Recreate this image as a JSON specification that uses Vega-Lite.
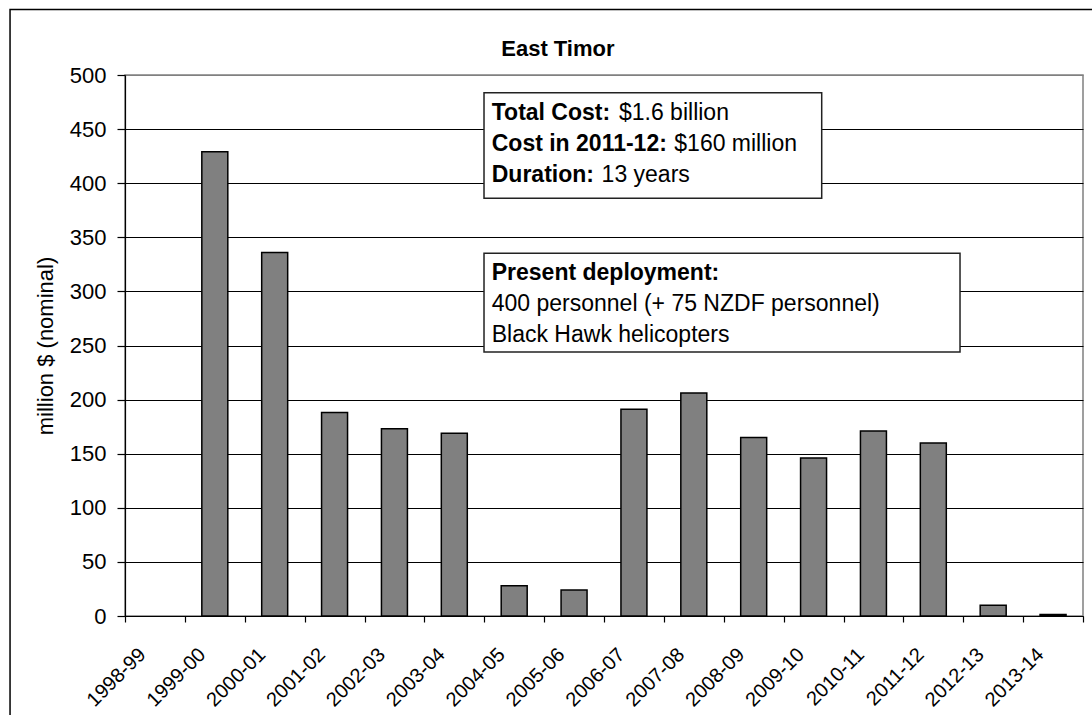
{
  "$schema": "https://vega.github.io/schema/vega-lite/v6.json",
  "width": 958,
  "height": 541,
  "autosize": {"type": "none"},
  "padding": {"left": 125, "top": 75, "right": 9, "bottom": 99},
  "background": "white",
  "config": {
    "font": "Liberation Sans",
    "view": {"stroke": "#808080", "strokeWidth": 1.5},
    "axis": {"labelFont": "Liberation Sans", "titleFont": "Liberation Sans", "labelColor": "black", "titleColor": "black", "domainColor": "black", "tickColor": "black", "domainWidth": 1.2, "tickWidth": 1.2}
  },
  "resolve": {"scale": {"x": "independent"}},
  "layer": [
    {
      "data": {"values": [
        {"year": "1998-99", "cost": 0},
        {"year": "1999-00", "cost": 429},
        {"year": "2000-01", "cost": 336},
        {"year": "2001-02", "cost": 188},
        {"year": "2002-03", "cost": 173},
        {"year": "2003-04", "cost": 169},
        {"year": "2004-05", "cost": 28},
        {"year": "2005-06", "cost": 24},
        {"year": "2006-07", "cost": 191},
        {"year": "2007-08", "cost": 206},
        {"year": "2008-09", "cost": 165},
        {"year": "2009-10", "cost": 146},
        {"year": "2010-11", "cost": 171},
        {"year": "2011-12", "cost": 160},
        {"year": "2012-13", "cost": 10},
        {"year": "2013-14", "cost": 1.5}
      ]},
      "mark": {"type": "bar", "width": {"band": 0.434}, "fill": "#808080", "stroke": "black", "strokeWidth": 1.5},
      "encoding": {
        "x": {"field": "year", "type": "nominal", "sort": null,
          "scale": {"paddingInner": 0, "paddingOuter": 0},
          "axis": {"title": null, "labelAngle": -45, "labelAlign": "right", "labelBaseline": "top", "labelFontSize": 20, "labelOffset": -20, "labelPadding": 22, "tickBand": "extent", "tickSize": 6, "grid": false}},
        "y": {"field": "cost", "type": "quantitative",
          "scale": {"domain": [0, 500], "nice": false},
          "axis": {"title": "million $ (nominal)", "values": [0, 50, 100, 150, 200, 250, 300, 350, 400, 450, 500], "grid": true,
            "gridColor": {"condition": {"test": "datum.value === 500", "value": "#808080"}, "value": "black"},
            "gridWidth": 1.2, "tickSize": 8, "labelFontSize": 22, "labelPadding": 11, "titleFontSize": 22, "titleFontWeight": "normal", "titlePadding": 12}},
        "strokeOpacity": {"condition": {"test": "datum.cost === 0", "value": 0}, "value": 1}
      }
    },
    {
      "data": {"values": [{"k": 1}]},
      "layer": [
        {
          "mark": {"type": "rect", "filled": false, "color": "black", "strokeWidth": 1.5},
          "encoding": {
            "x": {"datum": -1.92, "type": "quantitative", "scale": {"domain": [0, 16], "nice": false, "zero": false}, "axis": null},
            "x2": {"datum": 17.5},
            "y": {"datum": 560.5, "type": "quantitative"},
            "y2": {"datum": -120}
          }
        },
        {
          "mark": {"type": "text", "align": "center", "baseline": "alphabetic", "fontSize": 22, "fontWeight": "bold", "color": "black"},
          "encoding": {
            "x": {"datum": 7.23, "type": "quantitative"},
            "y": {"datum": 517.6, "type": "quantitative"},
            "text": {"value": "East Timor"}
          }
        },
        {
          "mark": {"type": "rect", "fill": "white", "stroke": "#222222", "strokeWidth": 1.5},
          "encoding": {
            "x": {"datum": 5.996, "type": "quantitative"},
            "x2": {"datum": 11.636},
            "y": {"datum": 483.6, "type": "quantitative"},
            "y2": {"datum": 386.0}
          }
        },
        {
          "mark": {"type": "rect", "fill": "white", "stroke": "#222222", "strokeWidth": 1.5},
          "encoding": {
            "x": {"datum": 5.996, "type": "quantitative"},
            "x2": {"datum": 13.946},
            "y": {"datum": 335.2, "type": "quantitative"},
            "y2": {"datum": 244}
          }
        },
        {
          "mark": {"type": "text", "align": "left", "baseline": "alphabetic", "fontSize": 23, "fontWeight": "bold", "color": "black", "lineHeight": 31},
          "encoding": {
            "x": {"datum": 6.125, "type": "quantitative"},
            "y": {"datum": 458.4, "type": "quantitative"},
            "text": {"value": ["Total Cost:", "Cost in 2011-12:", "Duration:"]}
          }
        },
        {
          "mark": {"type": "text", "align": "left", "baseline": "alphabetic", "fontSize": 23, "color": "black"},
          "encoding": {
            "x": {"datum": 8.25, "type": "quantitative"},
            "y": {"datum": 458.4, "type": "quantitative"},
            "text": {"value": "$1.6 billion"}
          }
        },
        {
          "mark": {"type": "text", "align": "left", "baseline": "alphabetic", "fontSize": 23, "color": "black"},
          "encoding": {
            "x": {"datum": 9.174, "type": "quantitative"},
            "y": {"datum": 429.8, "type": "quantitative"},
            "text": {"value": "$160 million"}
          }
        },
        {
          "mark": {"type": "text", "align": "left", "baseline": "alphabetic", "fontSize": 23, "color": "black"},
          "encoding": {
            "x": {"datum": 7.96, "type": "quantitative"},
            "y": {"datum": 401.1, "type": "quantitative"},
            "text": {"value": "13 years"}
          }
        },
        {
          "mark": {"type": "text", "align": "left", "baseline": "alphabetic", "fontSize": 23, "fontWeight": "bold", "color": "black"},
          "encoding": {
            "x": {"datum": 6.125, "type": "quantitative"},
            "y": {"datum": 310.5, "type": "quantitative"},
            "text": {"value": "Present deployment:"}
          }
        },
        {
          "mark": {"type": "text", "align": "left", "baseline": "alphabetic", "fontSize": 23, "color": "black", "lineHeight": 31},
          "encoding": {
            "x": {"datum": 6.125, "type": "quantitative"},
            "y": {"datum": 281.9, "type": "quantitative"},
            "text": {"value": ["400 personnel (+ 75 NZDF personnel)", "Black Hawk helicopters"]}
          }
        }
      ]
    }
  ]
}
